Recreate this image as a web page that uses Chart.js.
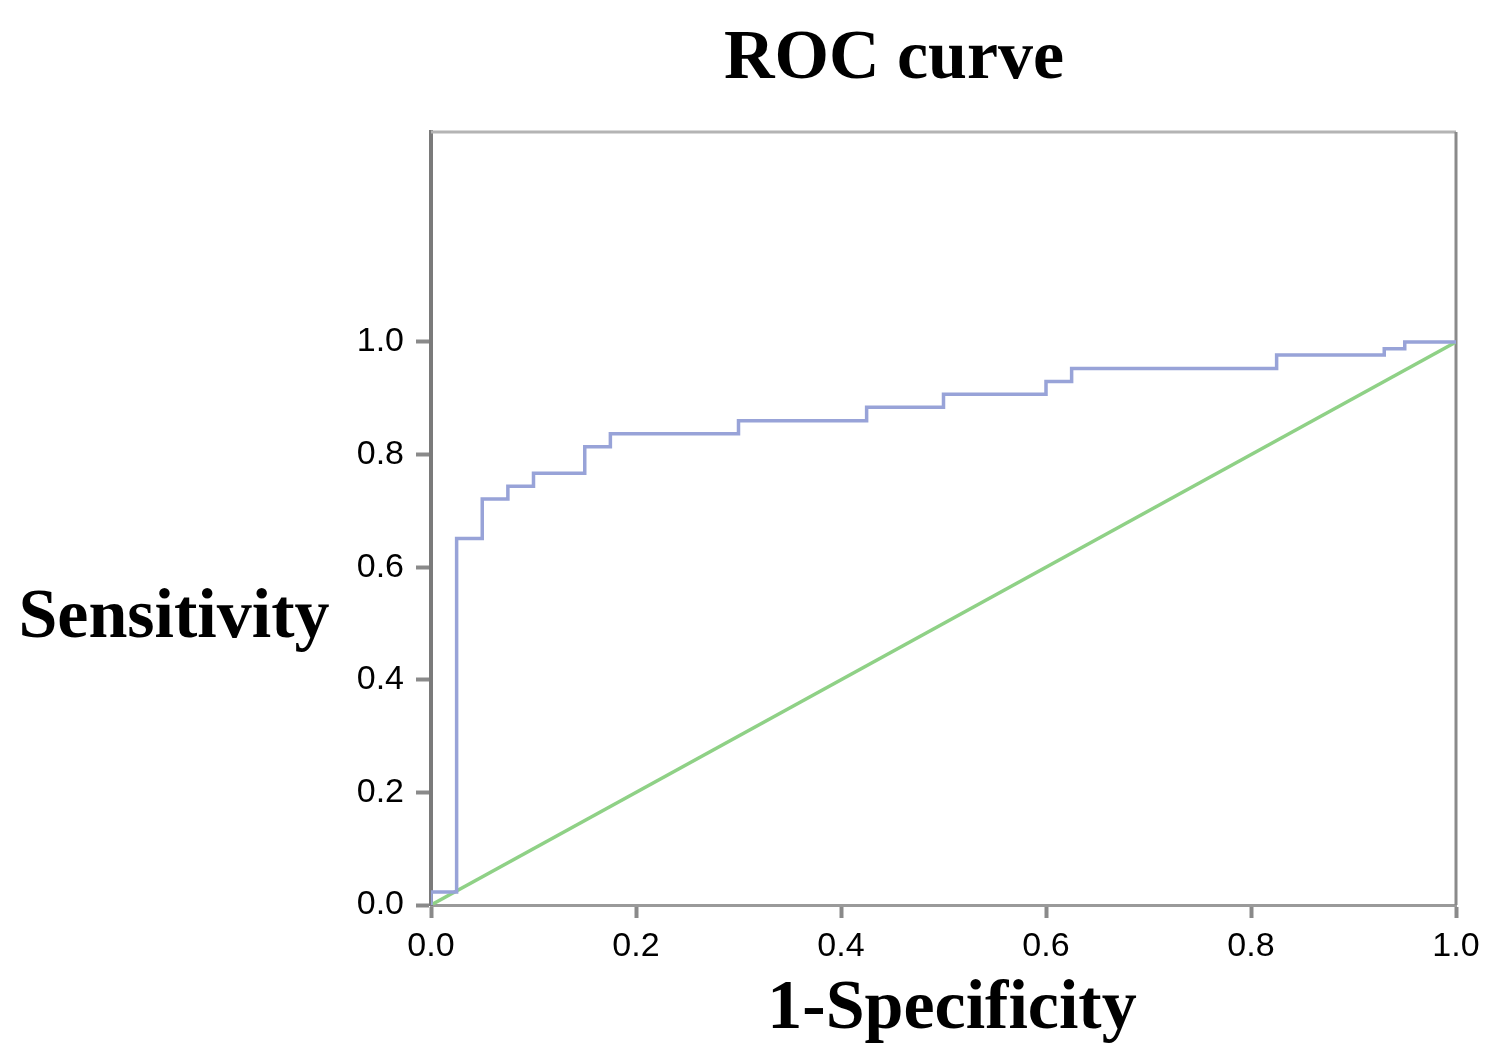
<!DOCTYPE html>
<html>
<head>
<meta charset="utf-8">
<script src="https://cdn.jsdelivr.net/npm/chart.js@4"></script>
<style>
    body { margin: 0; background: #fff; }
    #wrap { width: 1500px; height: 1064px; position: relative; }
</style>
</head>
<body>
<div id="wrap"><canvas id="roc"></canvas></div>
<script>
// ROC curve points (1-specificity, sensitivity), corners of the steps
var fpr = [0, 0, 0.025, 0.05, 0.075, 0.1, 0.15, 0.175, 0.3, 0.425, 0.5, 0.6, 0.625, 0.825, 0.93, 0.95, 1.0];
var tpr = [0, 0.023, 0.651, 0.721, 0.744, 0.767, 0.814, 0.837, 0.860, 0.884, 0.907, 0.930, 0.953, 0.977, 0.988, 1.0, 1.0];

// reference diagonal
var refX = [0, 1];
var refY = [0, 1];

var xTicks = [0, 0.2, 0.4, 0.6, 0.8, 1.0];
var yTicks = [0, 0.2, 0.4, 0.6, 0.8, 1.0];

var titleText = 'ROC curve';
var xLabel = '1-Specificity';
var yLabel = 'Sensitivity';

var toPoints = function (xs, ys) {
    var pts = [];
    for (var i = 0; i < xs.length; i++) {
        pts.push({x: xs[i], y: ys[i]});
    }
    return pts;
};

var useTicks = function (list) {
    return function (scale) {
        scale.ticks = list.map(function (v) { return {value: v}; });
    };
};

// frame + titles
var framePlugin = {
    id: 'frame',
    beforeDatasetsDraw: function (chart) {
        var a = chart.chartArea, ctx = chart.ctx;
        ctx.save();
        ctx.lineWidth = 3;
        ctx.strokeStyle = '#b4b4b4';
        ctx.beginPath();
        ctx.moveTo(a.left, a.top);
        ctx.lineTo(a.right, a.top);
        ctx.stroke();
        ctx.strokeStyle = '#8a8a8a';
        ctx.beginPath();
        ctx.moveTo(a.right, a.top);
        ctx.lineTo(a.right, a.bottom);
        ctx.stroke();
        ctx.restore();
    },
    afterDraw: function (chart) {
        var ctx = chart.ctx;
        ctx.save();
        ctx.fillStyle = '#000';
        ctx.font = 'bold 70px "Liberation Serif", "Times New Roman", serif';
        ctx.textAlign = 'center';
        ctx.textBaseline = 'alphabetic';
        ctx.fillText(titleText, 894, 78);
        ctx.fillText(yLabel, 174, 637);
        ctx.fillText(xLabel, 952, 1028);
        ctx.restore();
    }
};

var tickFont = {family: '"Liberation Sans", Arial, sans-serif', size: 34};

new Chart(document.getElementById('roc'), {
    type: 'scatter',
    data: {
        datasets: [
            {
                data: toPoints(fpr, tpr),
                showLine: true,
                stepped: 'before',
                borderColor: '#98a3d8',
                borderWidth: 3.5,
                pointRadius: 0,
                fill: false
            },
            {
                data: toPoints(refX, refY),
                showLine: true,
                borderColor: '#8fd186',
                borderWidth: 3.5,
                pointRadius: 0,
                fill: false
            }
        ]
    },
    options: {
        responsive: true,
        maintainAspectRatio: false,
        devicePixelRatio: 1,
        animation: false,
        layout: {padding: {left: 0, top: 132, right: 44, bottom: 0}},
        plugins: {
            legend: {display: false},
            tooltip: {enabled: false}
        },
        scales: {
            x: {
                type: 'linear',
                min: 0,
                max: 1,
                afterBuildTicks: useTicks(xTicks),
                afterFit: function (scale) { scale.height = 159; },
                ticks: {
                    font: tickFont,
                    color: '#000',
                    padding: 8,
                    maxRotation: 0,
                    callback: function (v) { return v.toFixed(1); }
                },
                grid: {drawOnChartArea: false, tickLength: 13, tickWidth: 4, tickColor: '#8a8a8a'},
                border: {color: '#9a9a9a', width: 3}
            },
            y: {
                type: 'linear',
                min: 0,
                max: 1.373,
                afterBuildTicks: useTicks(yTicks),
                afterFit: function (scale) { scale.width = 431; },
                ticks: {
                    font: tickFont,
                    color: '#000',
                    padding: 12,
                    callback: function (v) { return v.toFixed(1); }
                },
                grid: {drawOnChartArea: false, tickLength: 15, tickWidth: 4, tickColor: '#8a8a8a'},
                border: {color: '#7a7a7a', width: 4}
            }
        }
    },
    plugins: [framePlugin]
});
</script>
</body>
</html>
